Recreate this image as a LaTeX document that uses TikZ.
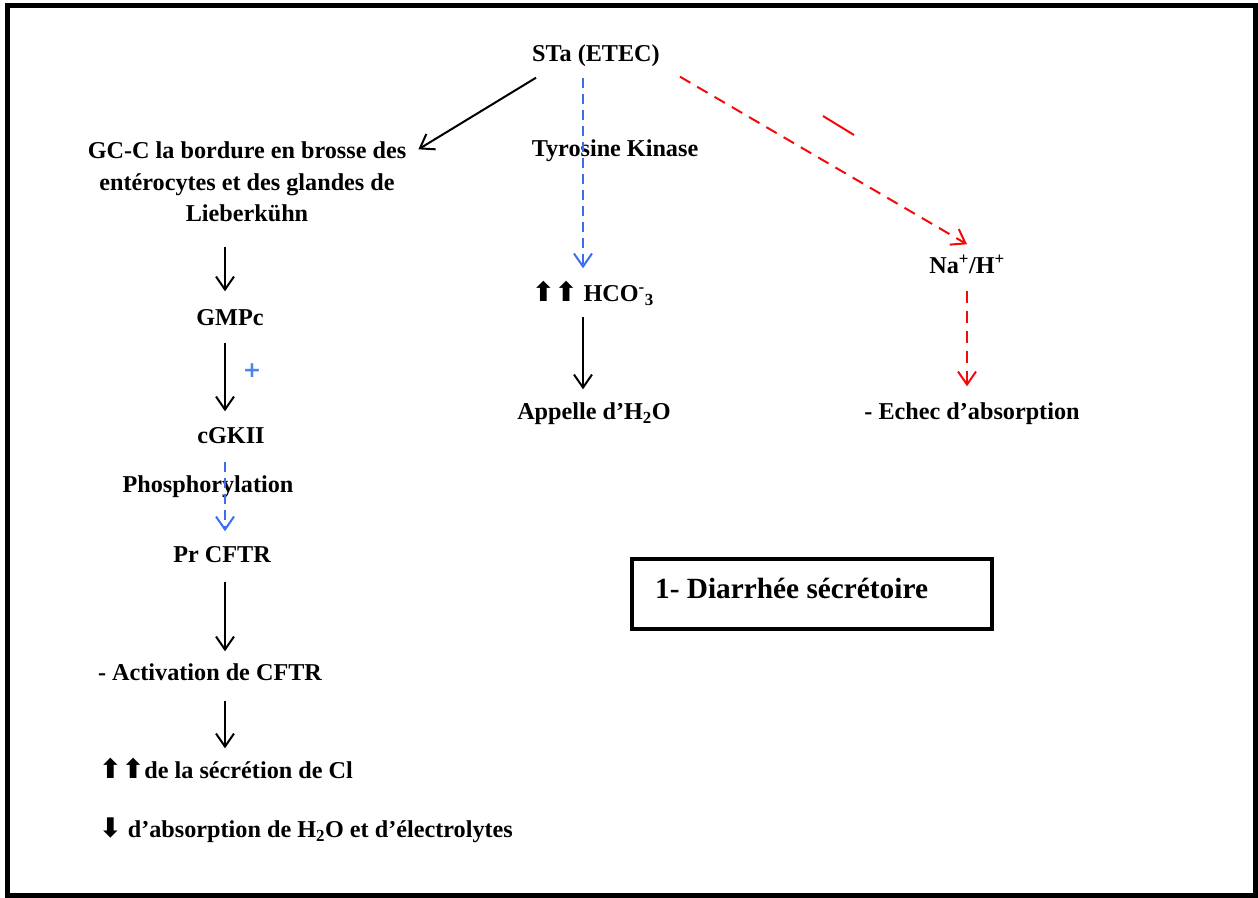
\documentclass[tikz,border=0pt]{standalone}
\usepackage{fontspec}
\setmainfont{Liberation Serif}
\newfontfamily\symfont{DejaVu Sans}
\usetikzlibrary{arrows.meta}
\definecolor{dashblue}{RGB}{58,110,240}
\definecolor{plusblue}{RGB}{74,134,232}
\definecolor{dashred}{RGB}{245,10,10}
\tikzset{
  lbl/.style={font=\fontsize{24.2}{31.5}\selectfont\bfseries, inner sep=0pt, text height=16pt, text depth=5pt},
  blk/.style={draw=black, line width=2pt, -{Straight Barb[length=13pt,width=18pt]}},
  bdash/.style={draw=dashblue, line width=2pt, dash pattern=on 10pt off 6pt, -{Straight Barb[length=13pt,width=18pt]}},
  rdash/.style={draw=dashred, line width=2pt, dash pattern=on 12pt off 8pt, -{Straight Barb[length=13pt,width=18pt]}},
}
\newcommand{\upar}{{\symfont\fontsize{27}{27}\selectfont ⬆}}
\newcommand{\dnar}{{\symfont\fontsize{27}{27}\selectfont ⬇}}
\begin{document}
\begin{tikzpicture}[x=1pt,y=-1pt]
\useasboundingbox (0,0) rectangle (1258,897);
\draw[line width=5pt] (7.5,5) rectangle (1255.5,895);
% nodes
\node[lbl] (sta) at (596,56) {STa (ETEC)};
\node[lbl, align=center] (gcc) at (247,216) {GC-C la bordure en brosse des\\entérocytes et des glandes de\\Lieberkühn};
\node[lbl] (tyr) at (615,151) {Tyrosine Kinase};
\node[lbl] (gmpc) at (230,320) {GMPc};
\node[inner sep=0pt, text=plusblue, font=\symfont\bfseries\fontsize{22}{22}\selectfont] (plus) at (252,371) {+};
\node[lbl] (cgk) at (231,438) {cGKII};
\node[lbl] (phos) at (208,487) {Phosphorylation};
\node[lbl] (pr) at (222,557) {Pr CFTR};
\node[lbl] (act) at (210,675) {- Activation de CFTR};
\node[lbl, anchor=west] (sec) at (99,773) {\upar\upar de la sécrétion de Cl};
\node[lbl, anchor=west] (abs) at (99,832) {\dnar\ d’absorption de H\textsubscript{2}O et d’électrolytes};
\node[lbl, anchor=west] (hco) at (532,296) {\upar\upar\ HCO\textsuperscript{-}\textsubscript{3}};
\node[lbl] (app) at (594,414) {Appelle d’H\textsubscript{2}O};
\node[lbl] (na) at (967,268) {Na\textsuperscript{+}/H\textsuperscript{+}};
\node[lbl] (ech) at (972,414) {- Echec d’absorption};
\node[draw, line width=4.5pt, minimum width=360pt, minimum height=70pt, inner sep=0pt] (box) at (812,594) {};
\node[font=\fontsize{29.3}{34}\selectfont\bfseries, anchor=west, inner sep=0pt] (title) at (655,588) {1- Diarrhée sécrétoire};
% column coordinates
\coordinate (colL) at (225,0);
\coordinate (colM) at (583,0);
\coordinate (colR) at (967,0);
% connectors
\draw[blk] ([shift={(4,11)}]sta.south west) -- ([shift={(12,-56)}]gcc.north east);
\draw[bdash, shorten <=11pt, shorten >=17pt] (sta.south -| colM) -- (hco.north -| colM);
\draw[rdash] ([shift={(20,10)}]sta.south east) -- ([yshift=13pt]na.north);
\draw[dashred, line width=2pt] (823,116) -- (854,135);
\draw[blk, shorten <=20pt, shorten >=18pt] (gcc.south -| colL) -- (gmpc.north -| colL);
\draw[blk, shorten <=12pt, shorten >=16pt] (gmpc.south -| colL) -- (cgk.north -| colL);
\draw[bdash, shorten <=13pt, shorten >=15pt] (cgk.south -| colL) -- (pr.north -| colL);
\draw[blk, shorten <=14pt, shorten >=13pt] (pr.south -| colL) -- (act.north -| colL);
\draw[blk, shorten <=15pt, shorten >=14pt] (act.south -| colL) -- (sec.north -| colL);
\draw[blk, shorten <=10pt, shorten >=14pt] (hco.south -| colM) -- (app.north -| colM);
\draw[rdash, shorten <=12pt, shorten >=17pt] (na.south -| colR) -- (ech.north -| colR);
\end{tikzpicture}
\end{document}
